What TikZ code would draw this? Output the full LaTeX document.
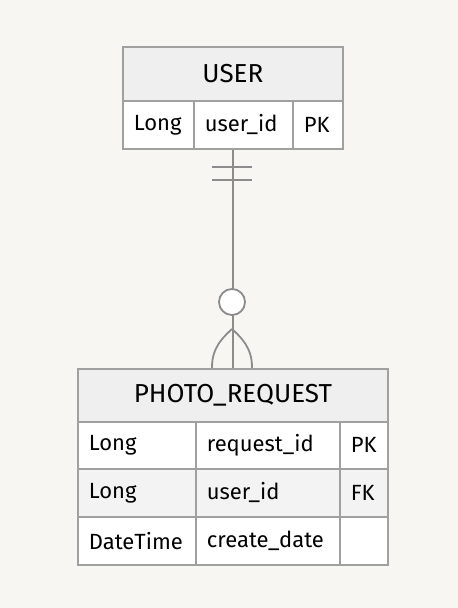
\documentclass[tikz,border=0pt]{standalone}
\usepackage{fontspec}
\setmainfont{Fira Sans}
\definecolor{bg}{HTML}{F7F6F3}
\definecolor{hdr}{HTML}{EFEFEF}
\definecolor{alt}{HTML}{F3F3F3}
\definecolor{bord}{HTML}{A0A0A0}
\definecolor{conn}{HTML}{8C8C8C}
\tikzset{
  cell/.style={draw=bord, line width=1.8pt, fill=white, anchor=north west, inner xsep=11pt, inner ysep=0pt, align=left, font=\fontsize{22}{25}\selectfont, text=black},
  hcell/.style={draw=bord, line width=1.8pt, fill=hdr, anchor=north west, inner sep=0pt, align=center, font=\fontsize{26}{29}\selectfont, text=black},
  rel/.style={draw=conn, line width=1.8pt}
}
\newcommand{\cellat}[6]{% name, x, y, w, h, text
  \node[cell, minimum width=#4pt, minimum height=#5pt, text width=#4pt-22pt] (#1) at (#2,#3) {#6};}
\begin{document}
\begin{tikzpicture}[x=1pt,y=-1pt]
\fill[bg] (0,0) rectangle (458,608);
\useasboundingbox (0,0) rectangle (458,608);
% USER
\node[hcell, minimum width=220pt, minimum height=54pt] (uh) at (122,46) {USER};
\cellat{u1}{122}{100}{71}{48}{Long}
\cellat{u2}{193}{100}{99}{48}{user\_id}
\cellat{u3}{292}{100}{50}{48}{PK}
% PHOTO_REQUEST
\node[hcell, minimum width=310pt, minimum height=53pt] (ph) at (77,368) {PHOTO\_REQUEST};
\cellat{p11}{77}{421}{118}{47}{Long}
\cellat{p12}{195}{421}{144}{47}{request\_id}
\cellat{p13}{339}{421}{48}{47}{PK}
\node[cell, fill=alt, minimum width=118pt, minimum height=48pt, text width=96pt] (p21) at (77,468) {Long};
\node[cell, fill=alt, minimum width=144pt, minimum height=48pt, text width=122pt] (p22) at (195,468) {user\_id};
\node[cell, fill=alt, minimum width=48pt, minimum height=48pt, text width=26pt] (p23) at (339,468) {FK};
\cellat{p31}{77}{516}{118}{48}{DateTime}
\cellat{p32}{195}{516}{144}{48}{create\_date}
\cellat{p33}{339}{516}{48}{48}{}
% relationship
\coordinate (top) at (uh.center |- u1.south);
\coordinate (bot) at (ph.north);
\coordinate (fork) at (232,329);
\draw[rel] (top) -- (bot);
\draw[rel] (212,167) -- (252,167);
\draw[rel] (212,180) -- (252,180);
\draw[rel] (fork) .. controls (215,344) and (212,355) .. (212,368);
\draw[rel] (fork) .. controls (249,344) and (252,355) .. (252,368);
\node[draw=conn, line width=1.8pt, fill=white, circle, minimum size=26pt, inner sep=0pt] (circ) at (232,302) {};
\end{tikzpicture}
\end{document}
